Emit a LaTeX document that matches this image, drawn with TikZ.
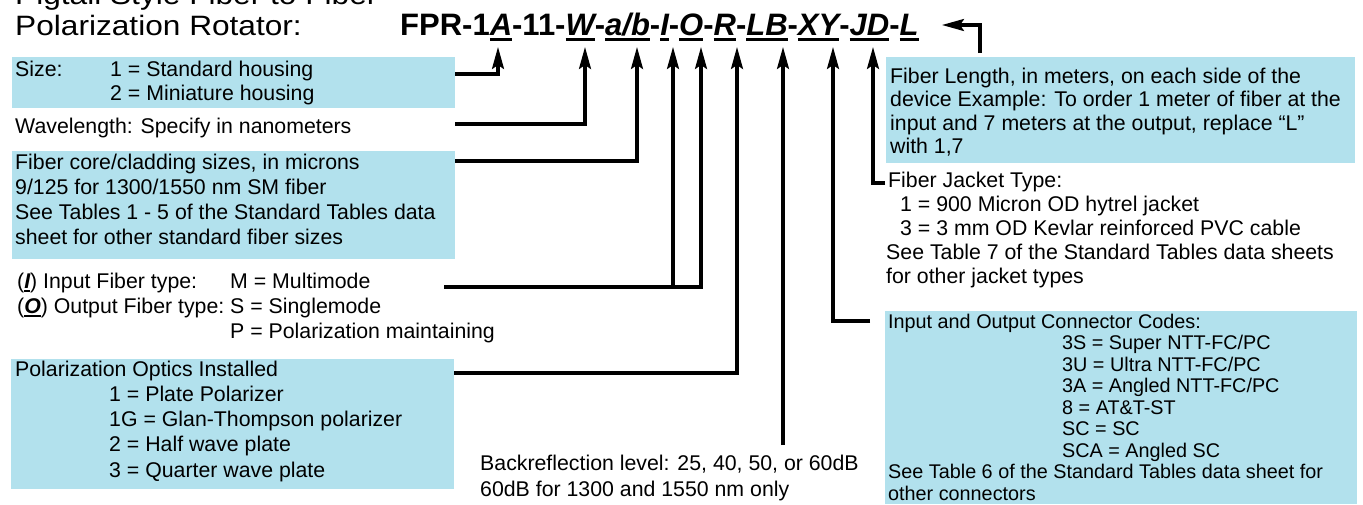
\documentclass[tikz,border=0pt]{standalone}
\usepackage{fontspec}
\setmainfont{Liberation Sans}
\newfontfamily\titlefont[FakeStretch=1.13]{Liberation Sans}
\usetikzlibrary{arrows.meta}
\definecolor{boxblue}{RGB}{178,225,237}
\newcommand{\fs}[2]{\fontsize{#1}{#2}\selectfont}
\newcommand{\Lns}[2]{\vtop{\baselineskip=#1\lineskiplimit=-1000pt\relax #2}}
\newcommand{\codeul}[1]{\setbox0\hbox{\itshape #1}\rlap{\rule[-5.5pt]{\wd0}{2.5pt}}\box0}
\newcommand{\smallul}[1]{\setbox0\hbox{\bfseries\itshape #1}\rlap{\rule[-3.5pt]{\wd0}{1.8pt}}\box0}
\begin{document}
\begin{tikzpicture}[x=1pt,y=-1pt,
  txt/.style={anchor=base west,inner sep=0pt,font=\fs{21.3}{24}},
  ttl/.style={anchor=base west,inner sep=0pt,font=\titlefont\fs{28}{30}},
  codetxt/.style={anchor=base west,inner sep=0pt,font=\bfseries\fs{31}{33}},
  bluebox/.style={fill=boxblue,draw=none,inner sep=0pt,anchor=north west},
  conn/.style={line width=3.1pt,-{Stealth[length=22pt,width=12pt,inset=4pt]}}]
\useasboundingbox (0,0) rectangle (1363,504);

% title and code
\node[ttl] (title1) at (15,4) {Pigtail Style Fiber to Fiber};
\node[ttl] (title2) at (15,35) {Polarization Rotator:};
\node[codetxt] (code) at (400,35) {FPR-1\codeul{A}-11-\codeul{W}-\codeul{a/b}-\codeul{I}-\codeul{O}-\codeul{R}-\codeul{LB}-\codeul{XY}-\codeul{JD}-\codeul{L}};

% arrow tips
\coordinate (tA) at (498,47);
\coordinate (tW) at (585,47);
\coordinate (tab) at (637,47);
\coordinate (tI) at (673,47);
\coordinate (tO) at (701,47);
\coordinate (tR) at (737,47);
\coordinate (tLB) at (783,47);
\coordinate (tXY) at (833,47);
\coordinate (tJD) at (873,47);
\coordinate (tL) at (942,25);

% boxes
\node[bluebox,minimum width=443pt,minimum height=51pt] (sizebox) at (12,57) {};
\node[bluebox,minimum width=443pt,minimum height=108pt] (corebox) at (12,151) {};
\node[bluebox,minimum width=443pt,minimum height=130pt] (polbox) at (11,359) {};
\node[bluebox,minimum width=469pt,minimum height=106pt] (lenbox) at (886,57) {};
\node[bluebox,minimum width=472pt,minimum height=193pt] (conbox) at (885,311) {};

% left texts
\node[txt] (sizetxt) at (15,76) {\Lns{24pt}{\hbox{\makebox[95pt][l]{Size:}1 = Standard housing}\hbox{\hspace{95pt}2 = Miniature housing}}};
\node[txt] (wavetxt) at (15,133) {Wavelength: Specify in nanometers};
\node[txt] (coretxt) at (15,169) {\Lns{25.3pt}{\hbox{Fiber core/cladding sizes, in microns}\hbox{9/125 for 1300/1550 nm SM fiber}\hbox{See Tables 1 - 5 of the Standard Tables data}\hbox{sheet for other standard fiber sizes}}};
\node[txt] (iotxt) at (17,288) {\Lns{25pt}{\hbox{\makebox[213pt][l]{(\smallul{I}) Input Fiber type:}M = Multimode}\hbox{\makebox[213pt][l]{(\smallul{O}) Output Fiber type: }S = Singlemode}\hbox{\hspace{213pt}P = Polarization maintaining}}};
\node[txt] (poltxt) at (15,376) {\Lns{25.3pt}{\hbox{Polarization Optics Installed}\hbox{\hspace{94pt}1 = Plate Polarizer}\hbox{\hspace{94pt}1G = Glan-Thompson polarizer}\hbox{\hspace{94pt}2 = Half wave plate}\hbox{\hspace{94pt}3 = Quarter wave plate}}};
\node[txt] (backtxt) at (480,470) {\Lns{26.5pt}{\hbox{Backreflection level: 25, 40, 50, or 60dB}\hbox{60dB for 1300 and 1550 nm only}}};

% right texts
\node[txt] (lentxt) at (890,83) {\Lns{23.5pt}{\hbox{Fiber Length, in meters, on each side of the}\hbox{device Example: To order 1 meter of fiber at the}\hbox{input and 7 meters at the output, replace “L”}\hbox{with 1,7}}};
\node[txt] (jactxt) at (888,187) {\Lns{24pt}{\hbox{Fiber Jacket Type:}\hbox{\hspace{12pt}1 = 900 Micron OD hytrel jacket}\hbox{\hspace{12pt}3 = 3 mm OD Kevlar reinforced PVC cable}\hbox{\hspace{-2pt}See Table 7 of the Standard Tables data sheets}\hbox{\hspace{-2pt}for other jacket types}}};
\node[txt,font=\fs{19.8}{21.5}] (context) at (888,328) {\Lns{21.5pt}{\hbox{Input and Output Connector Codes:}\hbox{\hspace{174pt}3S = Super NTT-FC/PC}\hbox{\hspace{174pt}3U = Ultra NTT-FC/PC}\hbox{\hspace{174pt}3A = Angled NTT-FC/PC}\hbox{\hspace{174pt}8 = AT\&T-ST}\hbox{\hspace{174pt}SC = SC}\hbox{\hspace{174pt}SCA = Angled SC}\hbox{See Table 6 of the Standard Tables data sheet for}\hbox{other connectors}}};

% connector start points
\coordinate (sz) at (455,74);
\coordinate (wl) at (455,124);
\coordinate (cf) at (455,161);
\coordinate (io) at (444,287);
\coordinate (po) at (454,373);
\coordinate (lb) at (783,445);
\coordinate (cc) at (870,321);
\coordinate (jd) at (885,183);
\coordinate (lf) at (980,53);

% connectors
\draw[conn] (sz) -| (tA);
\draw[conn] (wl) -| (tW);
\draw[conn] (cf) -| (tab);
\draw[conn] (io) -| (tO);
\draw[conn] (io -| tI) -- (tI);
\draw[conn] (po) -| (tR);
\draw[conn] (lb) -- (tLB);
\draw[conn] (cc) -| (tXY);
\draw[conn] (jd) -| (tJD);
\draw[conn] (lf) |- (tL);
\end{tikzpicture}
\end{document}
